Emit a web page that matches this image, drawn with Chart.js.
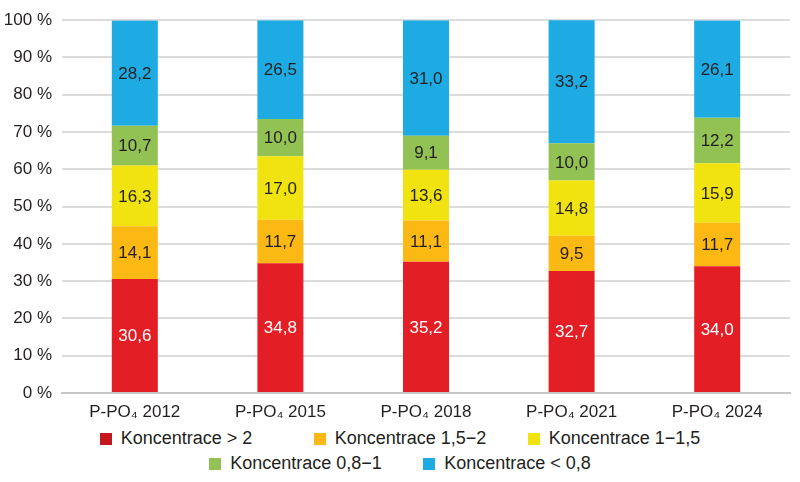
<!DOCTYPE html>
<html lang="cs">
<head>
<meta charset="utf-8">
<title>P-PO4 koncentrace</title>
<script src="https://cdn.jsdelivr.net/npm/chart.js@4.4.1/dist/chart.umd.min.js"></script>
<style>
  html, body { margin: 0; padding: 0; background: #fff; }
  body { width: 800px; height: 482px; overflow: hidden; font-family: "Liberation Sans", Arial, sans-serif; color: #231f20; }
  #wrap { position: relative; width: 800px; height: 425px; }
  #legend { width: 800px; height: 57px; padding-top: 1px; }
  .row { display: flex; justify-content: center; height: 25px; align-items: center; }
  .item { display: flex; align-items: center; font-size: 18px; white-space: nowrap; }
  .item.wide { width: 214px; }
  .box { width: 12px; height: 12px; margin-right: 9px; flex: none; }
</style>
</head>
<body>
<div id="wrap"><canvas id="chart"></canvas></div>
<div id="legend"></div>
<script>
// Kategorie a hodnoty (procenta)
const years = ["P-PO\u2084 2012", "P-PO\u2084 2015", "P-PO\u2084 2018", "P-PO\u2084 2021", "P-PO\u2084 2024"];
const seriesNames = ["Koncentrace > 2", "Koncentrace 1,5\u22122", "Koncentrace 1\u22121,5", "Koncentrace 0,8\u22121", "Koncentrace < 0,8"];
const over2 = [30.6, 34.8, 35.2, 32.7, 34.0];
const from15to2 = [14.1, 11.7, 11.1, 9.5, 11.7];
const from1to15 = [16.3, 17.0, 13.6, 14.8, 15.9];
const from08to1 = [10.7, 10.0, 9.1, 10.0, 12.2];
const under08 = [28.2, 26.5, 31.0, 33.2, 26.1];
const yTicks = [0, 10, 20, 30, 40, 50, 60, 70, 80, 90, 100];

const colors = ["#e31e24", "#fcb813", "#f1e30f", "#92c154", "#1eabe3"];
// legenda má v originále tmavší červenou
const legendColors = ["#c4171e", "#fcb813", "#f1e30f", "#92c154", "#1eabe3"];
const labelColors = ["#ffffff", "#231f20", "#231f20", "#231f20", "#231f20"];
const fontFamily = '"Liberation Sans", Arial, sans-serif';

const fmt = (v) => v.toFixed(1).replace(".", ",");

// Popisky hodnot uprostřed každého segmentu sloupce
const barValues = {
  id: "barValues",
  afterDatasetsDraw(chart) {
    const { ctx } = chart;
    ctx.save();
    ctx.font = "17px " + fontFamily;
    ctx.textAlign = "center";
    ctx.textBaseline = "middle";
    chart.data.datasets.forEach((ds, di) => {
      const meta = chart.getDatasetMeta(di);
      meta.data.forEach((bar, i) => {
        const top = Math.max(bar.y, chart.chartArea.top);
        ctx.fillStyle = labelColors[di];
        ctx.fillText(fmt(ds.data[i]), bar.x, (top + bar.base) / 2 + 1);
      });
    });
    ctx.restore();
  }
};

// HTML legenda ve dvou řádcích (3 + 2 položky)
const htmlLegend = {
  id: "htmlLegend",
  afterUpdate(chart) {
    const host = document.getElementById("legend");
    host.innerHTML = "";
    const items = chart.options.plugins.legend.labels.generateLabels(chart);
    [items.slice(0, 3), items.slice(3)].forEach((rowItems) => {
      const row = document.createElement("div");
      row.className = "row";
      rowItems.forEach((it, idx) => {
        const el = document.createElement("div");
        el.className = "item" + (idx < rowItems.length - 1 ? " wide" : "");
        const box = document.createElement("span");
        box.className = "box";
        box.style.background = legendColors[it.datasetIndex];
        const txt = document.createElement("span");
        txt.textContent = it.text;
        el.appendChild(box);
        el.appendChild(txt);
        row.appendChild(el);
      });
      host.appendChild(row);
    });
  }
};

const seriesData = [over2, from15to2, from1to15, from08to1, under08];

new Chart(document.getElementById("chart"), {
  type: "bar",
  data: {
    labels: years,
    datasets: seriesData.map((data, i) => ({
      label: seriesNames[i],
      data,
      backgroundColor: colors[i],
      borderWidth: 0,
      categoryPercentage: 1,
      barPercentage: 0.316
    }))
  },
  options: {
    responsive: true,
    maintainAspectRatio: false,
    animation: false,
    layout: { padding: { top: 18, right: 10, left: 0, bottom: 0 } },
    plugins: {
      legend: { display: false },
      tooltip: { enabled: false }
    },
    scales: {
      x: {
        stacked: true,
        grid: { display: false },
        border: { color: "#c6c6c6", width: 2 },
        afterFit: (scale) => { scale.height = 32; },
        ticks: { color: "#231f20", font: { family: fontFamily, size: 17 }, padding: 1 }
      },
      y: {
        stacked: true,
        min: 0,
        max: 100,
        afterBuildTicks: (scale) => { scale.ticks = yTicks.map((v) => ({ value: v })); },
        afterFit: (scale) => { scale.width = 62; },
        grid: { color: "#dcdcdc", lineWidth: 2, drawTicks: false },
        border: { display: false },
        ticks: {
          color: "#231f20",
          font: { family: fontFamily, size: 17 },
          padding: 10,
          callback: (v) => v + " %"
        }
      }
    }
  },
  plugins: [barValues, htmlLegend]
});
</script>
</body>
</html>
